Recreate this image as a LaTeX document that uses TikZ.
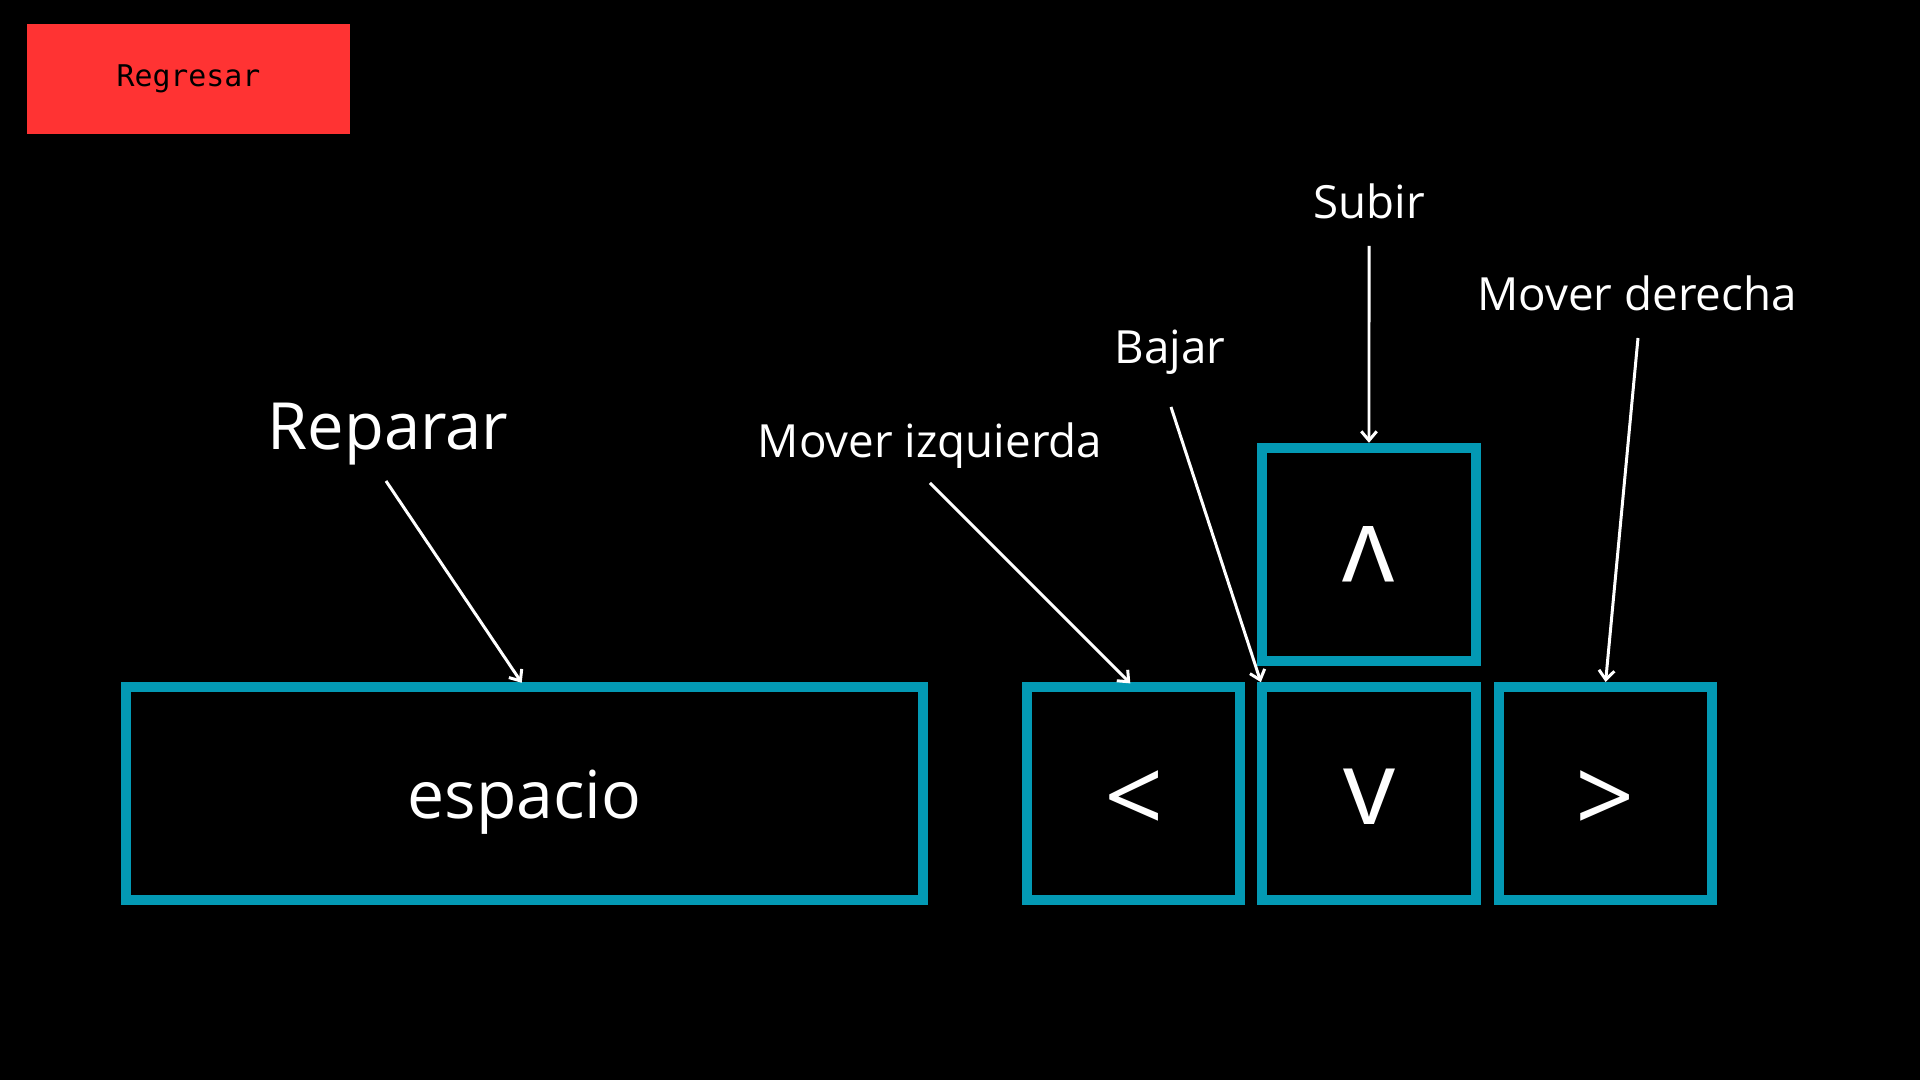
\documentclass[tikz,border=0pt]{standalone}
\usepackage{fontspec}
\usepackage{graphicx}
\setmainfont{Open Sans}
\newfontfamily\monofont{DejaVu Sans Mono}
\usetikzlibrary{arrows.meta,positioning}
\definecolor{tecla}{RGB}{3,153,180}
\definecolor{rojo}{RGB}{255,51,51}

\begin{document}
\begin{tikzpicture}[
    x=0.01cm, y=-0.01cm,
    key/.style={rectangle, draw=tecla, line width=0.1cm, inner sep=0pt, outer sep=0pt, minimum width=2.13cm, minimum height=2.13cm, text=white, font=\fontsize{29.5}{31}\selectfont},
    lbl/.style={anchor=base, inner sep=0pt, outer sep=0pt, text depth=0pt, text=white, font=\fontsize{13}{15}\selectfont},
    flecha/.style={-{Straight Barb[length=2.6pt, width=4.4pt]}, white, line width=0.85pt, shorten >=0.05cm},
  ]
    \fill[black] (0,0) rectangle (1920,1080);
    \useasboundingbox (0,0) rectangle (1920,1080);

    \node[rectangle, fill=rojo, minimum width=3.23cm, minimum height=1.10cm, font=\monofont\fontsize{8.5}{10}\selectfont] (regresar) at (188.5,79) {Regresar};

    \node[key, minimum width=7.97cm, text height=18.8pt, text depth=4.7pt, font=\fontsize{18.8}{20}\selectfont] (espacio) at (524.5,793.5) {espacio};
    \node[key, text height=22.6pt, text depth=0pt, right=1.04cm of espacio] (izq) {<};
    \node[key, text height=17.5pt, text depth=0pt, right=0.22cm of izq] (abajo) {v};
    \node[key, text height=22.6pt, text depth=0pt, right=0.23cm of abajo] (der) {>};
    \node[key, above=0.26cm of abajo] (arriba) {\rotatebox{180}{v}};

    \node[lbl, font=\fontsize{18.5}{20}\selectfont] (reparar) at (388,450) {Reparar};
    \node[lbl] (movizq) at (930,458) {Mover izquierda};
    \node[lbl] (bajar) at (1170,364) {Bajar};
    \node[lbl] (subir) at (1369,219) {Subir};
    \node[lbl] (movder) at (1637,311) {Mover derecha};

    \coordinate (reparar-p) at (386,481);
    \coordinate (movizq-p) at (930,483);
    \coordinate (bajar-p) at (1171,407);
    \coordinate (subir-p) at (1369,246);
    \coordinate (movder-p) at (1638,338);

    \draw[flecha] (reparar-p) -- (espacio.north);
    \draw[flecha] (movizq-p) -- (izq.north);
    \draw[flecha] (bajar-p) -- (abajo.north west);
    \draw[flecha] (subir-p) -- (arriba.north);
    \draw[flecha] (movder-p) -- (der.north);
  \end{tikzpicture}
\end{document}
